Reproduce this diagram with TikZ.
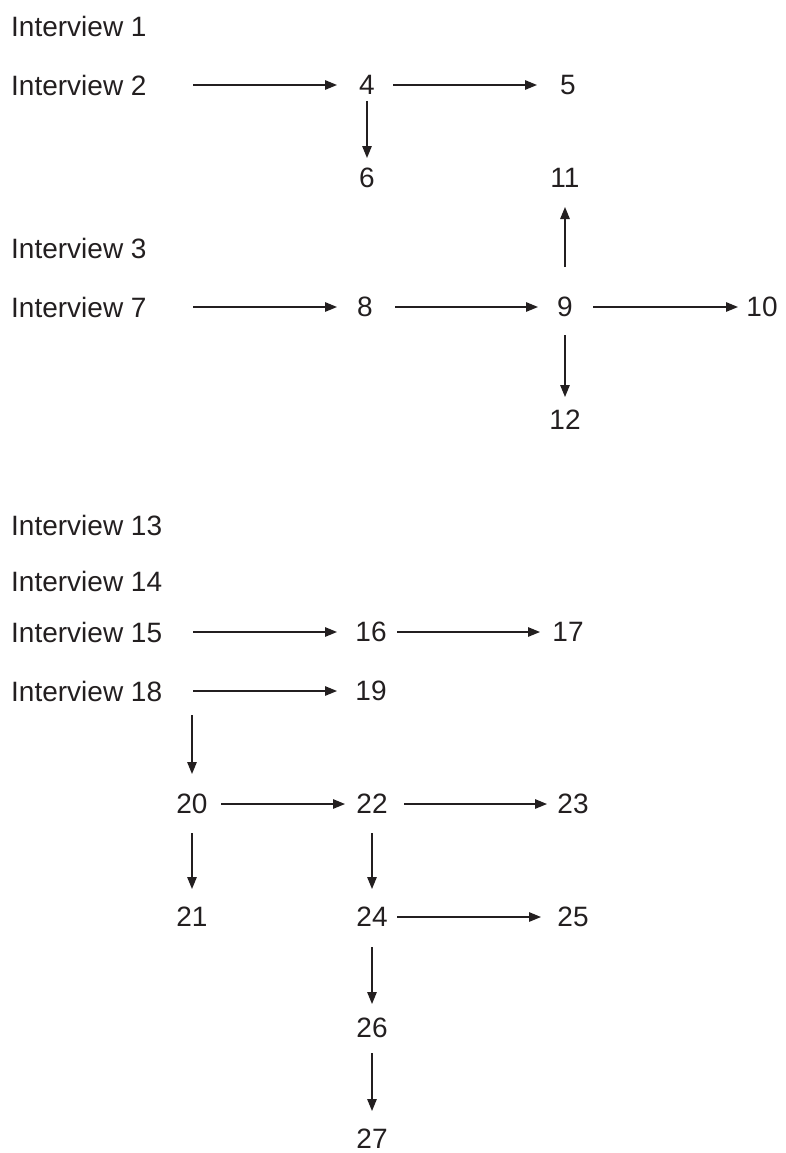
\documentclass[tikz,border=0pt]{standalone}
\usepackage{fontspec}
\setmainfont{Liberation Sans}
\usetikzlibrary{arrows.meta}
\definecolor{txtc}{RGB}{35,31,32}
\begin{document}
\begin{tikzpicture}[x=1pt,y=-1pt,
  lbl/.style={anchor=west,inner sep=0pt,font=\fontsize{28}{32}\selectfont,text=txtc},
  num/.style={anchor=center,inner sep=0pt,font=\fontsize{28}{32}\selectfont,text=txtc},
  arr/.style={-{Triangle[length=12pt,width=9.5pt]},line width=1.3pt,draw=txtc}]
\useasboundingbox (0,0) rectangle (785,1153);
\coordinate (cA) at (193,0);
% interview labels
\node[lbl] (i1)  at (11,26)  {Interview 1};
\node[lbl] (i2)  at (11,85)  {Interview 2};
\node[lbl] (i3)  at (11,248) {Interview 3};
\node[lbl] (i7)  at (11,307) {Interview 7};
\node[lbl] (i13) at (11,525) {Interview 13};
\node[lbl] (i14) at (11,581) {Interview 14};
\node[lbl] (i15) at (11,632) {Interview 15};
\node[lbl] (i18) at (11,691) {Interview 18};
% numbers
\node[num] (n4)  at (367,85)  {4};
\node[num] (n5)  at (568,85)  {5};
\node[num] (n6)  at (367,178) {6};
\node[num] (n11) at (565,178) {11};
\node[num] (n8)  at (365,307) {8};
\node[num] (n9)  at (565,307) {9};
\node[num] (n10) at (762,307) {10};
\node[num] (n12) at (565,420) {12};
\node[num] (n16) at (371,632) {16};
\node[num] (n17) at (568,632) {17};
\node[num] (n19) at (371,691) {19};
\node[num] (n20) at (192,804) {20};
\node[num] (n22) at (372,804) {22};
\node[num] (n23) at (573,804) {23};
\node[num] (n21) at (192,917) {21};
\node[num] (n24) at (372,917) {24};
\node[num] (n25) at (573,917) {25};
\node[num] (n26) at (372,1028) {26};
\node[num] (n27) at (372,1139) {27};
% connectors
\draw[arr,shorten >=30pt] (i2 -| cA) -- (n4.center);
\draw[arr,shorten <=26pt,shorten >=31pt] (n4.center) -- (n5.center);
\draw[arr,shorten <=16pt,shorten >=20pt] (n4.center) -- (n6.center);
\draw[arr,shorten >=28pt] (i7 -| cA) -- (n8.center);
\draw[arr,shorten <=30pt,shorten >=27pt] (n8.center) -- (n9.center);
\draw[arr,shorten <=28pt,shorten >=24pt] (n9.center) -- (n10.center);
\draw[arr,shorten <=40pt,shorten >=29pt] (n9.center) -- (n11.center);
\draw[arr,shorten <=28pt,shorten >=23pt] (n9.center) -- (n12.center);
\draw[arr,shorten >=34pt] (i15 -| cA) -- (n16.center);
\draw[arr,shorten <=26pt,shorten >=28pt] (n16.center) -- (n17.center);
\draw[arr,shorten >=34pt] (i18 -| cA) -- (n19.center);
\draw[arr,shorten <=24pt,shorten >=30pt] (n20 |- i18) -- (n20.center);
\draw[arr,shorten <=29pt,shorten >=27pt] (n20.center) -- (n22.center);
\draw[arr,shorten <=32pt,shorten >=26pt] (n22.center) -- (n23.center);
\draw[arr,shorten <=29pt,shorten >=28pt] (n20.center) -- (n21.center);
\draw[arr,shorten <=29pt,shorten >=28pt] (n22.center) -- (n24.center);
\draw[arr,shorten <=25pt,shorten >=32pt] (n24.center) -- (n25.center);
\draw[arr,shorten <=30pt,shorten >=24pt] (n24.center) -- (n26.center);
\draw[arr,shorten <=25pt,shorten >=28pt] (n26.center) -- (n27.center);
\end{tikzpicture}
\end{document}
